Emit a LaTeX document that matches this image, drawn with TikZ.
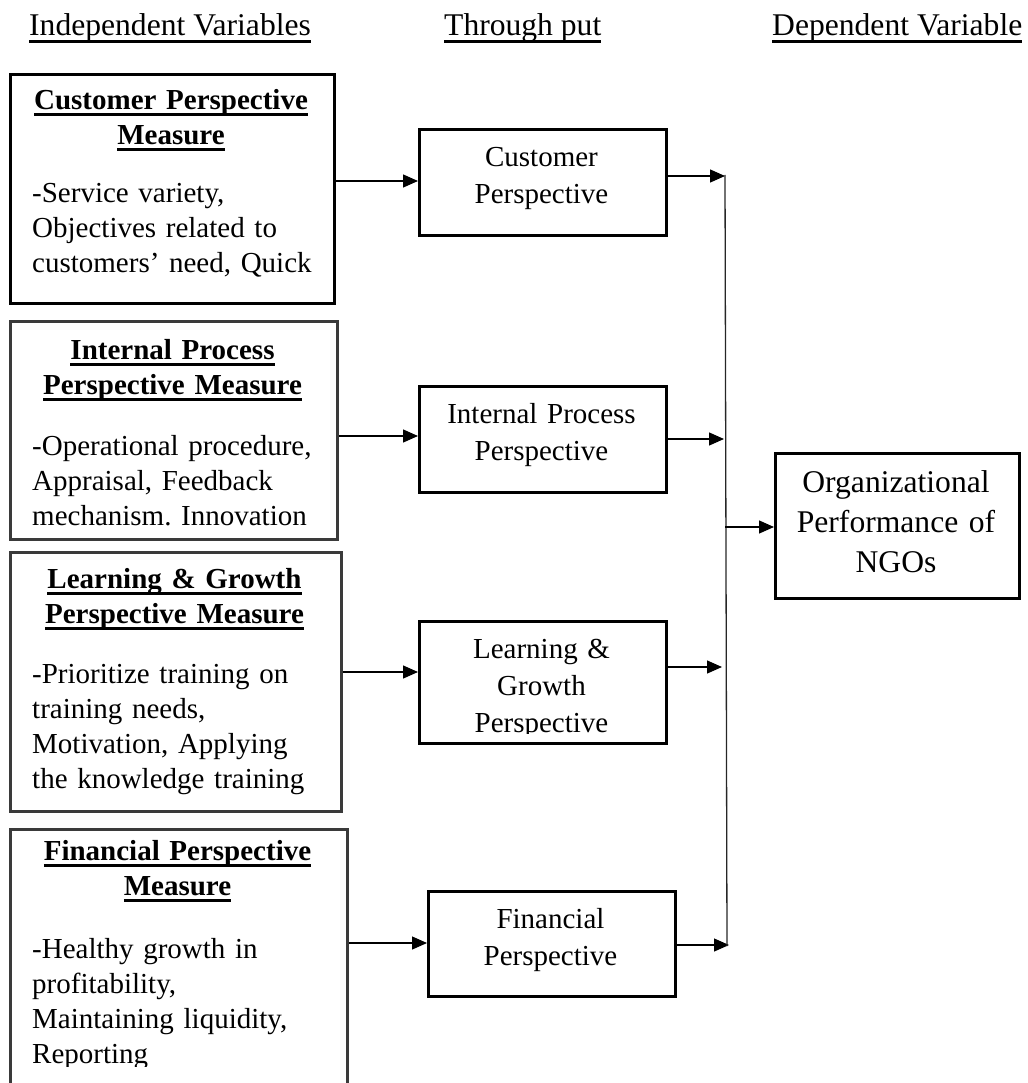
\documentclass[tikz,border=0pt]{standalone}
\usepackage{fontspec}
\setmainfont{Liberation Serif}
\usetikzlibrary{arrows.meta}
\newcommand\bxfont{\fontsize{29}{37}\selectfont}
\newcommand\lbfont{\fontsize{29}{35}\selectfont}
\newcommand\hdfont{\fontsize{31.6}{40}\selectfont}
\newcommand\ulx[1]{\leavevmode\setbox0=\hbox{#1}\rlap{\vrule width\wd0 height -4pt depth 6.4pt}\box0}
\newcommand\ulh[1]{\leavevmode\setbox0=\hbox{#1}\rlap{\vrule width\wd0 height -4.5pt depth 6.8pt}\box0}
\definecolor{edgegray}{HTML}{3A3A3A}
\frenchspacing
\begin{document}
\begin{tikzpicture}[x=1pt,y=-1pt,
  box/.style={draw=black, line width=2.8pt, inner sep=0pt, anchor=north west},
  gbox/.style={draw=edgegray, line width=2.8pt, inner sep=0pt, anchor=north west},
  mbox/.style={draw=black, line width=2.6pt, inner sep=0pt, anchor=north west, minimum width=247pt},
  ttl/.style={inner sep=0pt, font=\lbfont\bfseries, anchor=north, text width=315pt, align=center},
  body/.style={inner sep=0pt, font=\lbfont, anchor=north west, text width=305pt, align=left},
  mtxt/.style={inner sep=0pt, font=\bxfont, anchor=north, text width=240pt, align=center},
  hdr/.style={inner sep=0pt, font=\hdfont, anchor=base west},
  arr/.style={draw=black, line width=1.3pt, -{Triangle[length=15pt,width=13pt]}},
  ln/.style={draw=black!85, line width=1.3pt}]
\useasboundingbox (0,0) rectangle (1027,1083);
\clip (0,0) rectangle (1027,1083);

% headers
\node[hdr] (h1) at (29,36) {\ulh{Independent Variables}};
\node[hdr] (h2) at (444,36) {\ulh{Through put}};
\node[hdr] (h3) at (772,36) {\ulh{Dependent Variable}};

% left boxes
\node[box, minimum width=324pt, minimum height=229pt] (b1) at (9,73) {};
\node[gbox, minimum width=327pt, minimum height=218pt] (b2) at (9,320) {};
\node[gbox, minimum width=331pt, minimum height=259pt] (b3) at (9,551) {};
\node[gbox, minimum width=337pt, minimum height=290pt] (b4) at (9,828) {};

% text: north = first baseline - 24.5
\node[ttl] (b1t) at (171,84.5) {\strut\ulx{Customer Perspective}\\\ulx{Measure}};
\node[body] (b1b) at (32,177.5) {\strut-Service variety,\\Objectives related to\\customers’ need, Quick};

\node[ttl] (b2t) at (172.5,334.5) {\strut\ulx{Internal Process}\\\ulx{Perspective Measure}};
\node[body] (b2b) at (32,430.5) {\strut-Operational procedure,\\Appraisal, Feedback\\mechanism. Innovation};

\node[ttl] (b3t) at (174.5,563.5) {\strut\ulx{Learning \& Growth}\\\ulx{Perspective Measure}};
\node[body] (b3b) at (32,658.5) {\strut-Prioritize training on\\training needs,\\Motivation, Applying\\the knowledge training};

\node[ttl] (b4t) at (177.5,835.5) {\strut\ulx{Financial Perspective}\\\ulx{Measure}};
\begin{scope}
\clip (0,0) rectangle (1027,1066);
\node[body] (b4b) at (32,933.5) {\strut-Healthy growth in\\profitability,\\Maintaining liquidity,\\Reporting};
\end{scope}

% middle boxes
\node[mbox, minimum height=106pt] (m1) at (418,128) {};
\node[mbox, minimum height=106pt] (m2) at (418,385) {};
\node[mbox, minimum height=122pt] (m3) at (418,620) {};
\node[mbox, minimum height=105pt] (m4) at (427,890) {};

\node[mtxt] (m1t) at (541.5,140.1) {\strut Customer\\Perspective};
\node[mtxt] (m2t) at (541.5,397.1) {\strut Internal Process\\Perspective};
\begin{scope}
\clip (0,0) rectangle (1027,733);
\node[mtxt] (m3t) at (541.5,632.1) {\strut Learning \&\\Growth\\Perspective};
\end{scope}
\node[mtxt] (m4t) at (550.5,902.1) {\strut Financial\\Perspective};

% dependent variable box
\node[box, line width=2.6pt, minimum width=244pt, minimum height=145pt] (org) at (774,452) {};
\node[inner sep=0pt, font=\hdfont, anchor=north, text width=240pt, align=center] (orgt) at (896,464) {\strut Organizational\\Performance of\\NGOs};

% arrows left -> middle
\coordinate (y1) at (0,181);
\coordinate (y2) at (0,436);
\coordinate (y3) at (0,672);
\coordinate (y4) at (0,943);
\draw[arr] (b1.east |- y1) -- (m1.west |- y1);
\draw[arr] (b2.east |- y2) -- (m2.west |- y2);
\draw[arr] (b3.east |- y3) -- (m3.west |- y3);
\draw[arr] (b4.east |- y4) -- (m4.west |- y4);

% arrows middle -> junction line
\coordinate (j1) at (725,176);
\coordinate (j2) at (724,439);
\coordinate (j3) at (722,667);
\coordinate (j4) at (729,945);
\draw[arr] (m1.east |- j1) -- (j1);
\draw[arr] (m2.east |- j2) -- (j2);
\draw[arr] (m3.east |- j3) -- (j3);
\draw[arr] (m4.east |- j4) -- (j4);

% vertical junction line
\coordinate (vt) at (725,175);
\coordinate (vb) at (727,946);
\draw[ln] (vt) -- (vb);

% arrow to dependent variable
\coordinate (jo) at (725,527);
\draw[arr] (jo) -- (org.west |- jo);
\end{tikzpicture}
\end{document}
